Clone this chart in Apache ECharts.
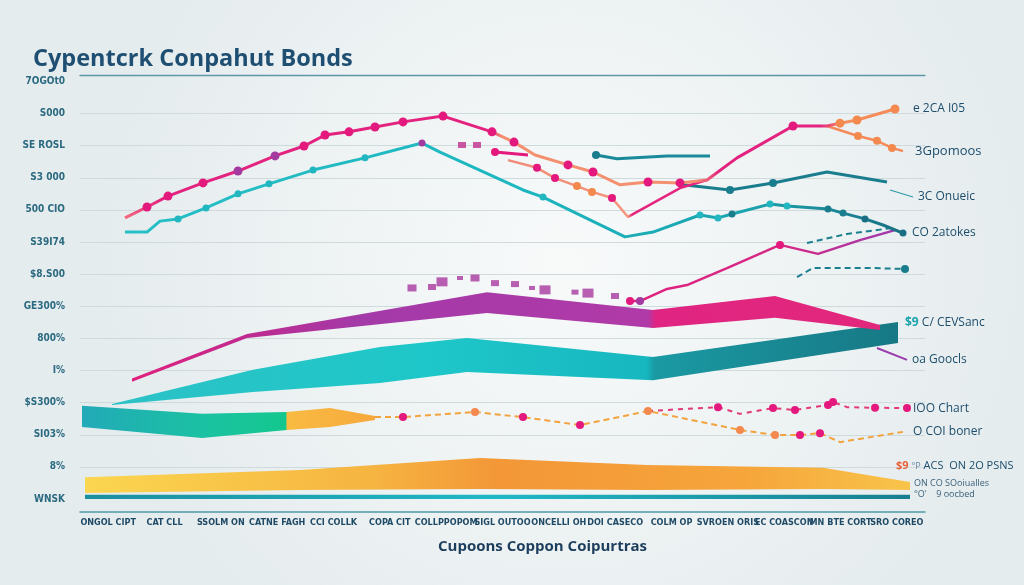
<!DOCTYPE html>
<html><head><meta charset="utf-8">
<script src="https://cdn.jsdelivr.net/npm/echarts@6/dist/echarts.min.js"></script>
<style>html,body{margin:0;padding:0;background:#eef3f4}#c{width:1024px;height:585px}</style>
</head><body><div id="c"></div>
<script>
// ---------- text ----------
const chartTitle = 'Cypentcrk Conpahut Bonds';
const xAxisTitle = 'Cupoons Coppon Coipurtras';
const categories = ['ONGOL CIPT','CAT CLL','SSOLM ON','CATNE FAGH','CCI COLLK','COPA CIT','COLLPPOPOM','SIGL OUTOO','ONCELLI OH','DOI CASECO','COLM OP','SVROEN ORIS','EC COASCON','MN BTE CORT','SRO COREO'];
const yTickLabels = ['WNSK','8%','SI03%','$S300%','I%','800%','GE300%','$8.S00','S39I74','500 CIO','S3 000','SE ROSL','S000','7OGOt0'];

// ---------- line series: [period, value, dot] (dot: 0 none, else dot colour key) ----------
const magentaMain = [[4.0,8.75,0],[6.2,9.09,1],[8.3,9.43,1],[11.8,9.84,1],[15.3,10.21,2],[19.0,10.68,2],[21.9,10.99,1],[24.0,11.33,1],[26.4,11.43,1],[29.0,11.58,1],[31.8,11.74,1],[35.8,11.92,1],[40.7,11.43,1],[42.9,11.11,1],[45.0,10.71,0],[48.3,10.40,1],[50.8,10.18,1],[53.5,9.78,0],[56.3,9.87,1],[59.5,9.84,1],[62.2,9.93,0],[65.2,10.62,0],[70.8,11.61,1],[74.2,11.61,0],[75.5,11.70,3],[77.2,11.80,3],[81.0,12.14,3]];
const orangeBranch = [[74.2,11.61,0],[77.3,11.30,3],[79.2,11.15,3],[80.7,10.93,3],[81.8,10.83,0]];
const magentaStub = [[41.0,10.80,1],[44.3,10.71,0]];
const salmonLower = [[42.3,10.55,0],[45.2,10.31,1],[47.0,9.99,1],[49.2,9.74,3],[50.7,9.56,3],[52.7,9.37,1],[54.3,8.78,0],[59.5,9.68,0],[62.2,9.93,0]];
const cyanMain = [[4.0,8.31,0],[6.2,8.31,0],[7.5,8.65,0],[9.3,8.72,6],[12.1,9.06,6],[15.3,9.50,6],[18.4,9.81,6],[22.8,10.24,6],[28.0,10.62,6],[33.7,11.08,2],[35.5,10.80,0],[43.8,9.62,0],[45.8,9.40,6],[54.0,8.16,0],[56.8,8.31,0],[61.5,8.84,6],[63.3,8.75,6],[64.7,8.87,5],[68.5,9.18,6],[70.2,9.12,6],[74.3,9.03,5],[75.8,8.90,5],[78.0,8.72,4],[79.8,8.53,0],[81.8,8.28,4]];
const tealUpper = [[51.1,10.71,5],[53.2,10.59,0],[58.2,10.68,0],[62.5,10.68,0]];
const tealMid = [[59.8,9.78,0],[64.5,9.62,5],[68.8,9.84,5],[74.2,10.18,0],[80.2,9.87,0]];
const tealShort = [[80.5,9.62,0],[82.8,9.40,0]];
const tealDashA = [[72.2,7.97,0],[76.2,8.25,0],[80.8,8.44,0]];
const tealDashB = [[71.2,6.91,0],[72.8,7.19,0],[78.8,7.19,0],[82.0,7.16,5]];
const purpleRise = [[54.5,6.16,1],[55.5,6.16,2],[58.2,6.54,0],[60.2,6.66,0],[64.2,7.19,0],[69.5,7.91,1],[73.3,7.63,0],[77.5,8.06,0],[81.0,8.37,0]];
const purpleTail = [[79.2,4.70,0],[82.2,4.33,0]];
const orangeDash = [[29.0,2.55,0],[31.8,2.55,1],[39.0,2.71,3],[41.5,2.62,0],[43.8,2.55,1],[49.5,2.30,1],[56.3,2.74,3],[65.5,2.15,3],[69.0,1.99,3],[71.5,1.99,1],[73.5,2.05,1],[75.5,1.77,0],[81.8,2.09,0]];
const magentaDash = [[56.3,2.74,0],[63.3,2.86,1],[65.5,2.65,0],[68.8,2.83,1],[71.0,2.77,1],[74.3,2.93,1],[74.8,3.02,1],[76.2,2.86,0],[79.0,2.84,1],[82.2,2.83,1]];
// square markers: [period, value, size]
const squaresTop = [[37.7,11.02,6],[39.2,11.02,6]];
const squaresMid = [[32.7,6.57,7],[34.7,6.60,6],[35.7,6.76,9],[37.5,6.88,4],[39.0,6.88,7],[41.0,6.72,6],[43.0,6.69,6],[44.7,6.57,4],[46.0,6.51,9],[49.0,6.44,5],[50.3,6.41,9],[53.0,6.32,6]];
// bands: [period, low, high]
const bandPurple = [[4.7,3.65,3.75],[16.2,5.01,5.14],[40.2,5.79,6.44],[56.8,5.32,5.88],[69.0,5.64,6.32],[79.5,5.26,5.42]];
const bandTeal = [[2.7,2.93,2.96],[16.8,3.33,4.02],[29.5,3.61,4.73],[38.2,3.95,5.01],[56.8,3.70,4.42],[81.3,4.86,5.51]];
const bandGreen = [[-0.3,2.24,2.90],[11.7,1.90,2.65],[20.2,2.15,2.71],[24.5,2.24,2.83],[29.0,2.46,2.58]];
const bandYellow = [[0.0,0.19,0.68],[21.5,0.28,0.90],[39.5,0.31,1.28],[56.2,0.28,1.06],[73.8,0.31,0.97],[82.5,0.28,0.53]];
const bandStrip = [[0.0,0.0,0.13],[82.5,0.0,0.13]];

// ---------- styling ----------
const dotColor = {1:'#e3197d', 2:'#a33a9f', 3:'#f3894f', 4:'#1a6f85', 5:'#1a7d8e', 6:'#22b7c0'};
const labelColor = '#1d4d6b';
const G = (stops) => new echarts.graphic.LinearGradient(0,0,1,0, stops.map(s => ({offset:s[0], color:s[1]})));

function lineSeries(data, o) {
  const size = o.dot || 8;
  return {
    type:'line', xAxisIndex:0, yAxisIndex:0, z:o.z || 5, silent:true,
    symbol:'circle', showSymbol:true,
    data: data.map(d => ({value:[d[0], d[1]], symbolSize: d[2] ? size : 0, itemStyle:{color: dotColor[d[2]] || o.color}})),
    lineStyle:{color: o.stops ? G(o.stops) : o.color, width:o.width || 2.5, type:o.dash || 'solid'},
    endLabel: o.label ? {show:true, formatter:o.label, distance:o.dist || 8, color:labelColor, fontSize:o.fs || 12, fontFamily:'Open Sans'} : {show:false},
    emphasis:{disabled:true}
  };
}
function bandSeries(band, stops, labels) {
  return {
    type:'custom', xAxisIndex:0, yAxisIndex:0, z:2, silent:true, data:band, encode:{x:0, y:[1,2]},
    renderItem(params, api) {
      if (params.dataIndex !== 0) return null;
      const top = band.map(d => api.coord([d[0], d[2]]));
      const bot = band.map(d => api.coord([d[0], d[1]])).reverse();
      const children = [{type:'polygon', shape:{points:top.concat(bot)}, style:{fill:G(stops)}}];
      const e = top[top.length - 1];
      (labels || []).forEach(l => children.push({type:'text', x:e[0] + l.dx, y:e[1] + l.dy,
        style:{text:l.text, rich:l.rich, fill:l.fill || labelColor, font:l.font || '12px "Open Sans"', verticalAlign:'middle'}}));
      return {type:'group', children};
    }
  };
}
function squareSeries(data, color) {
  return {type:'scatter', xAxisIndex:0, yAxisIndex:0, z:4, silent:true, symbol:'rect',
    data:data, symbolSize:v => [v[2] + 2, v[2]], itemStyle:{color}};
}

const gridColors = yTickLabels.map((_, i) => (i === 0 || i === 13) ? 'rgba(0,0,0,0)' : '#cfdadd').concat(['rgba(0,0,0,0)']);

const option = {
  animation:false,
  backgroundColor: new echarts.graphic.RadialGradient(0.55, 0.45, 0.8, [{offset:0, color:'#f8fafa'}, {offset:1, color:'#e5ecee'}]),
  title:{text:chartTitle, left:28, top:42, textStyle:{fontSize:23.5, fontWeight:'bold', color:'#1e4f72', fontFamily:'Open Sans'}},
  grid:{left:80, right:99, top:81.4, bottom:86, outerBoundsMode:'none'},
  xAxis:[
    {type:'value', min:-0.5, max:84, position:'top', offset:6,
     axisLine:{show:true, onZero:false, lineStyle:{color:'#5d97a6', width:1.3}},
     axisTick:{show:false}, axisLabel:{show:false}, splitLine:{show:false}},
    {type:'category', data:categories, position:'bottom', offset:13, boundaryGap:true,
     axisLine:{show:true, onZero:false, lineStyle:{color:'#4d9aa8', width:1.5}}, axisTick:{show:false},
     axisLabel:{interval:0, margin:6, fontSize:9, fontWeight:'bold', color:'#1f4a66', fontFamily:'DejaVu Sans Condensed'},
     name:xAxisTitle, nameLocation:'middle', nameGap:27,
     nameTextStyle:{fontSize:15, fontWeight:'bold', color:'#1c3d5c', fontFamily:'Open Sans', padding:[0,0,0,80]}}
  ],
  yAxis:{type:'value', min:0, max:13, interval:1, axisLine:{show:false}, axisTick:{show:false},
    axisLabel:{formatter:v => Number.isInteger(v) ? yTickLabels[v] : '', margin:15, fontSize:10, fontWeight:'bold',
      color:'#2b6a80', fontFamily:'DejaVu Sans Condensed', padding:[6,0,0,0]},
    splitLine:{show:true, lineStyle:{color:gridColors, width:1}}},
  series:[
    bandSeries(bandStrip, [[0,'#1b8f9e'],[0.5,'#20b8c6'],[1,'#177f8f']]),
    bandSeries(bandYellow, [[0,'#fbd650'],[0.35,'#f6b441'],[0.5,'#f39737'],[0.8,'#f6a53b'],[1,'#f8c44a']], [
      {dx:-14, dy:-16, text:'{o|$9} {p|°P} ACS  ON 2O PSNS', font:'11px "Open Sans"', rich:{o:{fill:'#e8603a', font:'bold 11px "Open Sans"'}, p:{fill:'#6a8aa0', font:'9px "Open Sans"'}}},
      {dx:4, dy:1, text:'ON CO SOoiualles', fill:'#3a6078', font:'9px "Open Sans"'},
      {dx:4, dy:12, text:'°O\'    9 oocbed', fill:'#3a6078', font:'9px "Open Sans"'}
    ]),
    bandSeries(bandGreen, [[0,'#22aab8'],[0.45,'#1ac3a0'],[0.695,'#14c78e'],[0.70,'#f9bb42'],[1,'#f6a93c']]),
    bandSeries(bandTeal, [[0,'#2cc2c6'],[0.4,'#1ec7c9'],[0.68,'#17b7c0'],[0.69,'#1a9aa3'],[1,'#177885']], [
      {dx:7, dy:1, text:'{a|$9} C/ CEVSanc', rich:{a:{fill:'#1aa3ad', font:'bold 12px "Open Sans"'}}}
    ]),
    bandSeries(bandPurple, [[0,'#e0207e'],[0.15,'#c02a8e'],[0.3,'#a33aa8'],[0.69,'#b03aa8'],[0.70,'#e02482'],[1,'#e2287c']]),
    squareSeries(squaresMid, '#a8389f'),
    squareSeries(squaresTop, '#c0308f'),
    lineSeries(purpleTail, {color:'#9a3cae', width:2, label:'oa Goocls', dist:5}),
    lineSeries(orangeDash, {color:'#f2a33e', width:2, dash:[6,4], label:'O COI boner', dist:10, fs:12}),
    lineSeries(magentaDash, {color:'#e23a78', width:2, dash:[5,5], label:'IOO Chart', dist:6, fs:12}),
    lineSeries(tealDashB, {color:'#1a7f8f', width:2, dash:[6,4]}),
    lineSeries(tealDashA, {color:'#1a7f8f', width:2, dash:[6,4]}),
    lineSeries(purpleRise, {stops:[[0,'#e0207e'],[0.6,'#d42a86'],[1,'#9c3ab0']], color:'#d42a86', width:2.5}),
    lineSeries(tealShort, {color:'#2a9aa8', width:1.2, label:'3C Onueic', dist:5}),
    lineSeries(tealMid, {color:'#1a7d8e', width:3}),
    lineSeries(tealUpper, {color:'#1a8a9a', width:3}),
    lineSeries(cyanMain, {stops:[[0,'#27bfc6'],[0.5,'#1db7c0'],[0.8,'#1ba3ae'],[1,'#186f83']], color:'#1db7c0', width:3, dot:7, label:'CO 2atokes', dist:9}),
    lineSeries(salmonLower, {stops:[[0,'#f08a7a'],[0.6,'#f5957a'],[0.62,'#e5257f'],[1,'#e5257f']], color:'#f5957a', width:2.5}),
    lineSeries(magentaStub, {color:'#e3197d', width:3}),
    lineSeries(orangeBranch, {color:'#f48a5a', width:2.5, label:'3Gpomoos', dist:12, fs:13}),
    lineSeries(magentaMain, {stops:[[0,'#f2707e'],[0.05,'#e3237f'],[0.47,'#e3237f'],[0.49,'#f4906f'],[0.74,'#f4906f'],[0.77,'#e3237f'],[0.9,'#e3237f'],[0.93,'#f59060'],[1,'#f58a55']], color:'#e3197d', width:3, dot:9, label:'e 2CA I05', dist:18})
  ]
};
const chart = echarts.init(document.getElementById('c'));
chart.setOption(option);
</script>
</body></html>
